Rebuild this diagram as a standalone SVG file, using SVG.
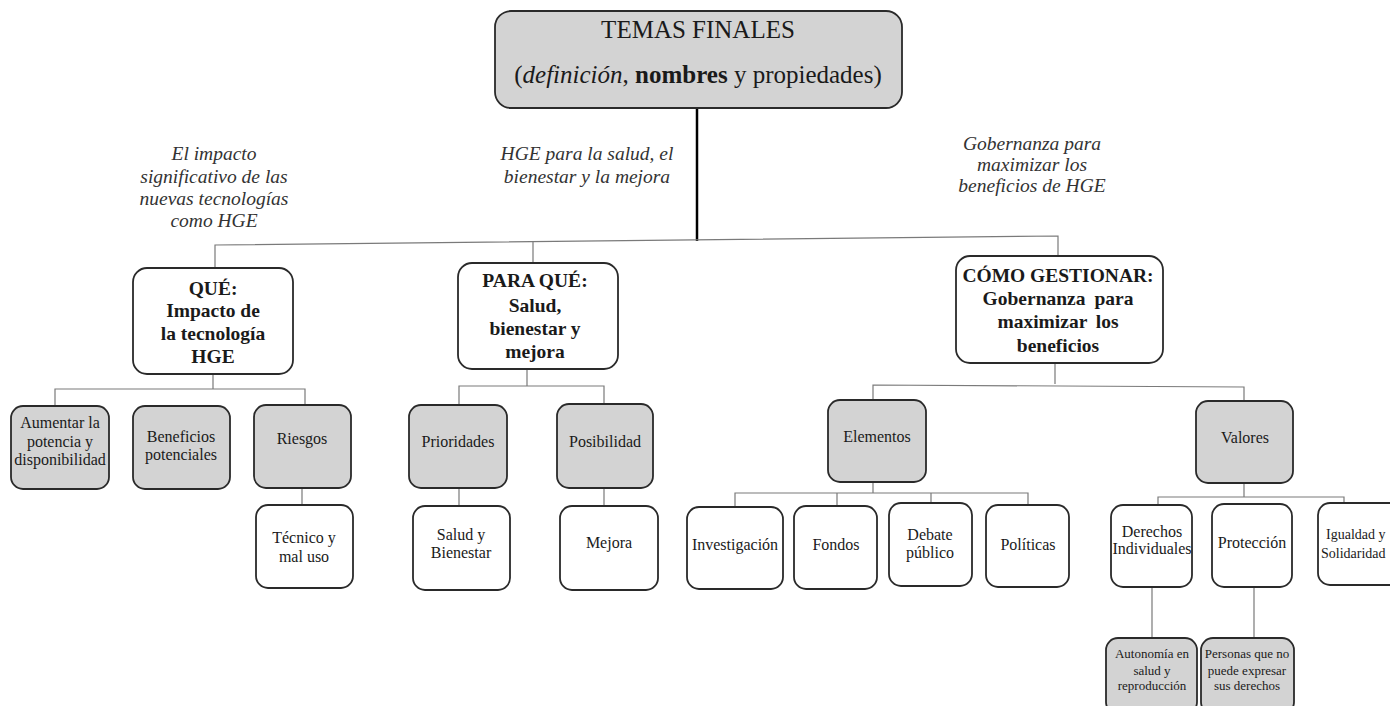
<svg xmlns="http://www.w3.org/2000/svg" width="1390" height="706" viewBox="0 0 1390 706" font-family="'Liberation Serif', 'DejaVu Serif', serif">
<style>
text{font-family:"Liberation Serif","DejaVu Serif",serif;fill:#1a1a1a;text-anchor:middle}
.g{fill:#d3d3d3;stroke:#2a2a2a;stroke-width:1.8}
.w{fill:#ffffff;stroke:#2a2a2a;stroke-width:1.8}
.c{fill:none;stroke:#7a7a7a;stroke-width:1.2}
.main{fill:none;stroke:#000;stroke-width:2.5}
.it{font-style:italic;font-size:19.5px;fill:#333}
.hd{font-weight:bold;font-size:19.5px}
.n{font-size:16px}
.s{font-size:13px}
.edge{font-size:14px;text-anchor:start}
</style>
<rect width="1390" height="706" fill="#fff"/>
<g id="connectors">
<path class="main" d="M697 108V241"/>
<path class="c" d="M215 268V245L1058 236V257M533 262V241"/>
<path class="c" d="M213 374V389M55 406V389H305V405M302 488V505"/>
<path class="c" d="M527 369V386M459 404V386H604V403M459 488V506M604 488V506"/>
<path class="c" d="M1055 363V384M873 400V385L1244 387V401"/>
<path class="c" d="M873 482V493M735 507V493H1028V505M837 493V506M931 493V503"/>
<path class="c" d="M1244 483V497M1158 505V497H1344V503M1152 587V638M1254 587V638"/>
</g>
<g id="labels">
<text class="it" x="214" y="160">El impacto</text>
<text class="it" x="214" y="183">significativo de las</text>
<text class="it" x="214" y="205">nuevas tecnologías</text>
<text class="it" x="214" y="227">como HGE</text>
<text class="it" x="587" y="160">HGE para la salud, el</text>
<text class="it" x="587" y="183">bienestar y la mejora</text>
<text class="it" x="1032" y="150">Gobernanza para</text>
<text class="it" x="1032" y="171">maximizar los</text>
<text class="it" x="1032" y="192">beneficios de HGE</text>
</g>
<g id="root">
<rect class="g" x="495" y="11" width="407" height="97" rx="16"/>
<text x="698" y="38" font-size="25">TEMAS FINALES</text>
<text x="698" y="83" font-size="25">(<tspan font-style="italic">definición</tspan>, <tspan font-weight="bold">nombres</tspan> y propiedades)</text>
</g>
<g id="que">
<rect class="w" x="133" y="268" width="160" height="106" rx="14"/>
<text class="hd" x="213" y="295">QUÉ:</text>
<text class="hd" x="213" y="317">Impacto de</text>
<text class="hd" x="213" y="340">la tecnología</text>
<text class="hd" x="213" y="363">HGE</text>
</g>
<g id="aumentar">
<rect class="g" x="11" y="406" width="98" height="83" rx="12"/>
<text class="n" x="60" y="428">Aumentar la</text>
<text class="n" x="60" y="447">potencia y</text>
<text class="n" x="60" y="465">disponibilidad</text>
</g>
<g id="beneficios">
<rect class="g" x="133" y="406" width="97" height="83" rx="12"/>
<text class="n" x="181" y="442">Beneficios</text>
<text class="n" x="181" y="460">potenciales</text>
</g>
<g id="riesgos">
<rect class="g" x="254" y="405" width="97" height="83" rx="12"/>
<text class="n" x="302" y="444">Riesgos</text>
</g>
<g id="tecnico">
<rect class="w" x="256" y="505" width="97" height="83" rx="12"/>
<text class="n" x="304" y="543">Técnico y</text>
<text class="n" x="304" y="562">mal uso</text>
</g>
<g id="paraque">
<rect class="w" x="458" y="263" width="160" height="106" rx="14"/>
<text class="hd" x="535" y="287">PARA QUÉ:</text>
<text class="hd" x="535" y="312">Salud,</text>
<text class="hd" x="535" y="335">bienestar y</text>
<text class="hd" x="535" y="358">mejora</text>
</g>
<g id="prioridades">
<rect class="g" x="409" y="405" width="98" height="83" rx="12"/>
<text class="n" x="458" y="447">Prioridades</text>
</g>
<g id="posibilidad">
<rect class="g" x="557" y="404" width="96" height="84" rx="12"/>
<text class="n" x="605" y="447">Posibilidad</text>
</g>
<g id="salud">
<rect class="w" x="413" y="506" width="97" height="84" rx="12"/>
<text class="n" x="461" y="540">Salud y</text>
<text class="n" x="461" y="558">Bienestar</text>
</g>
<g id="mejora">
<rect class="w" x="560" y="506" width="98" height="84" rx="12"/>
<text class="n" x="609" y="548">Mejora</text>
</g>
<g id="como">
<rect class="w" x="956" y="256" width="207" height="107" rx="14"/>
<text class="hd" x="1058" y="282">CÓMO GESTIONAR:</text>
<text class="hd" x="1058" y="305" word-spacing="4">Gobernanza para</text>
<text class="hd" x="1058" y="328" word-spacing="4">maximizar los</text>
<text class="hd" x="1058" y="352">beneficios</text>
</g>
<g id="elementos">
<rect class="g" x="828" y="400" width="98" height="82" rx="12"/>
<text class="n" x="877" y="442">Elementos</text>
</g>
<g id="investigacion">
<rect class="w" x="687" y="507" width="96" height="82" rx="12"/>
<text class="n" x="735" y="550">Investigación</text>
</g>
<g id="fondos">
<rect class="w" x="794" y="506" width="83" height="83" rx="12"/>
<text class="n" x="836" y="550">Fondos</text>
</g>
<g id="debate">
<rect class="w" x="889" y="503" width="83" height="83" rx="12"/>
<text class="n" x="930" y="540">Debate</text>
<text class="n" x="930" y="558">público</text>
</g>
<g id="politicas">
<rect class="w" x="986" y="505" width="83" height="82" rx="12"/>
<text class="n" x="1028" y="550">Políticas</text>
</g>
<g id="valores">
<rect class="g" x="1196" y="401" width="97" height="82" rx="12"/>
<text class="n" x="1245" y="443">Valores</text>
</g>
<g id="derechos">
<rect class="w" x="1111" y="505" width="81" height="82" rx="12"/>
<text class="n" x="1152" y="537">Derechos</text>
<text class="n" x="1152" y="554">Individuales</text>
</g>
<g id="proteccion">
<rect class="w" x="1212" y="504" width="80" height="83" rx="12"/>
<text class="n" x="1252" y="548">Protección</text>
</g>
<g id="igualdad">
<rect class="w" x="1318" y="503" width="84" height="82" rx="12"/>
<text class="edge" x="1326" y="539">Igualdad y</text>
<text class="edge" x="1321" y="558">Solidaridad</text>
</g>
<g id="autonomia">
<rect class="g" x="1106" y="638" width="91" height="76" rx="12"/>
<text class="s" x="1152" y="658">Autonomía en</text>
<text class="s" x="1152" y="675">salud y</text>
<text class="s" x="1152" y="690">reproducción</text>
</g>
<g id="personas">
<rect class="g" x="1201" y="638" width="93" height="76" rx="12"/>
<text class="s" x="1247" y="658">Personas que no</text>
<text class="s" x="1247" y="675">puede expresar</text>
<text class="s" x="1247" y="690">sus derechos</text>
</g>
</svg>
